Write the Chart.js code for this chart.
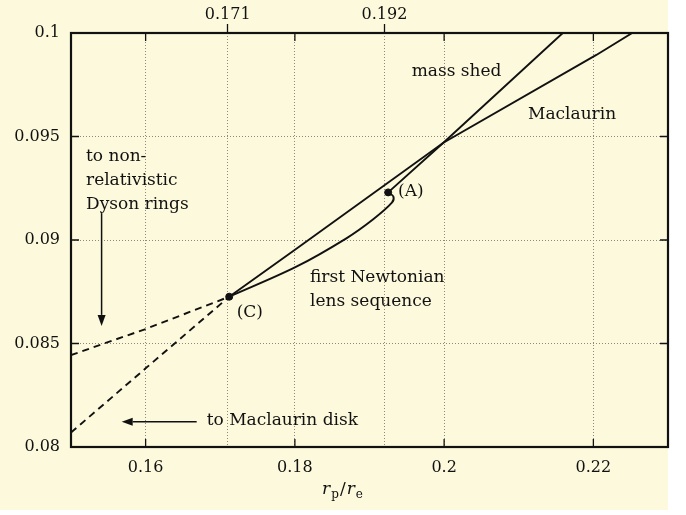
<!DOCTYPE html>
<html>
<head>
<meta charset="utf-8">
<script src="https://cdn.jsdelivr.net/npm/chart.js@4.4.1/dist/chart.umd.min.js"></script>
<style>
html, body { margin: 0; padding: 0; background: #ffffff; }
#wrap { position: relative; width: 686px; height: 515px; }
</style>
</head>
<body>
<div id="wrap"><canvas id="chart" width="686" height="515"></canvas></div>
<script>
// axis ticks
const xTicks = [0.16, 0.18, 0.2, 0.22];
const xTopTicks = [0.171, 0.192];
const yTicks = [0.08, 0.085, 0.09, 0.095, 0.1];

// Maclaurin sequence (solid part from C upward, dashed part towards the disk)
const maclaurinX = [0.1712, 0.1802, 0.1999, 0.2204, 0.2252];
const maclaurinY = [0.08726, 0.08958, 0.0947, 0.09894, 0.1];
const maclaurinDiskX = [0.15, 0.16, 0.1712];
const maclaurinDiskY = [0.0807, 0.0838, 0.08726];

// branch towards non-relativistic Dyson rings (dashed)
const dysonX = [0.15, 0.16, 0.1712];
const dysonY = [0.08444, 0.0857, 0.08726];

// mass-shed curve
const massShedX = [0.2159, 0.1999, 0.1925];
const massShedY = [0.1, 0.0947, 0.0923];

// first Newtonian lens sequence, from C to A
const lensX = [0.1712, 0.1802, 0.1869, 0.1905, 0.1930, 0.1932, 0.1925];
const lensY = [0.08726, 0.08871, 0.09008, 0.0910, 0.0918, 0.0921, 0.0923];

// marked points A and C
const markX = [0.1925, 0.1712];
const markY = [0.0923, 0.08726];

const INK = "#111111";
const SERIF = "'DejaVu Serif', serif";

function toPoints(xs, ys) {
    return xs.map((x, i) => ({ x: x, y: ys[i] }));
}

function lineSet(xs, ys, dashed, tension) {
    return {
        data: toPoints(xs, ys),
        showLine: true,
        borderColor: INK,
        borderWidth: 1.9,
        borderDash: dashed ? [7, 5] : [],
        pointRadius: 0,
        tension: tension || 0,
        fill: false
    };
}

const bgPlugin = {
    id: "paper",
    beforeDraw(chart) {
        const c = chart.ctx;
        c.save();
        c.fillStyle = "#fdf9dc";
        c.fillRect(0, 0, 668, 510);
        c.restore();
    }
};

const framePlugin = {
    id: "frame",
    afterDatasetsDraw(chart) {
        const c = chart.ctx;
        const a = chart.chartArea;
        const sx = chart.scales.x, sy = chart.scales.y;
        c.save();
        c.strokeStyle = INK;
        c.lineWidth = 1.3;
        c.beginPath();
        xTicks.forEach(v => {
            const px = sx.getPixelForValue(v);
            c.moveTo(px, a.bottom); c.lineTo(px, a.bottom - 8);
            c.moveTo(px, a.top); c.lineTo(px, a.top + 8);
        });
        yTicks.slice(1, -1).forEach(v => {
            const py = sy.getPixelForValue(v);
            c.moveTo(a.left, py); c.lineTo(a.left + 8, py);
            c.moveTo(a.right, py); c.lineTo(a.right - 8, py);
        });
        c.stroke();
        c.lineWidth = 2.2;
        c.strokeRect(a.left, a.top, a.right - a.left, a.bottom - a.top);
        c.restore();
    }
};

function arrow(c, x1, y1, x2, y2) {
    const ang = Math.atan2(y2 - y1, x2 - x1);
    const len = 11, half = 4;
    c.beginPath();
    c.moveTo(x1, y1);
    c.lineTo(x2 - len * Math.cos(ang), y2 - len * Math.sin(ang));
    c.stroke();
    c.beginPath();
    c.moveTo(x2, y2);
    c.lineTo(x2 - len * Math.cos(ang) - half * Math.sin(ang), y2 - len * Math.sin(ang) + half * Math.cos(ang));
    c.lineTo(x2 - len * Math.cos(ang) + half * Math.sin(ang), y2 - len * Math.sin(ang) - half * Math.cos(ang));
    c.closePath();
    c.fill();
}

const labelPlugin = {
    id: "labels",
    afterDraw(chart) {
        const c = chart.ctx;
        const sx = chart.scales.x, sy = chart.scales.y;
        const X = v => sx.getPixelForValue(v);
        const Y = v => sy.getPixelForValue(v);
        c.save();
        c.fillStyle = INK;
        c.strokeStyle = INK;
        c.font = "17px " + SERIF;
        c.textAlign = "left";
        c.textBaseline = "middle";

        c.fillText("mass shed", X(0.19565), Y(0.09813));
        c.fillText("Maclaurin", X(0.21124), Y(0.09604));
        c.fillText("(A)", X(0.19382), Y(0.09232));
        c.fillText("(C)", X(0.1722), Y(0.08647));
        c.fillText("first Newtonian", X(0.18203), Y(0.08818));
        c.fillText("lens sequence", X(0.18203), Y(0.08702));
        c.fillText("to non-", X(0.15201), Y(0.09402));
        c.fillText("relativistic", X(0.15201), Y(0.09286));
        c.fillText("Dyson rings", X(0.15201), Y(0.09169));
        c.fillText("to Maclaurin disk", X(0.16818), Y(0.08126));

        c.lineWidth = 1.5;
        arrow(c, X(0.1541), Y(0.0913), X(0.1541), Y(0.08585));
        arrow(c, X(0.16684), Y(0.08122), X(0.15679), Y(0.08122));

        // axis title r_p / r_e
        const big = "17px " + SERIF, ital = "italic 17px " + SERIF, small = "12px " + SERIF;
        const parts = [
            { t: "r", f: ital, dy: 0 },
            { t: "p", f: small, dy: 4 },
            { t: "/", f: big, dy: 0 },
            { t: "r", f: ital, dy: 0 },
            { t: "e", f: small, dy: 4 }
        ];
        let total = 0;
        parts.forEach(p => { c.font = p.f; p.w = c.measureText(p.t).width; total += p.w + 1; });
        let px = chart.width / 2 - total / 2;
        const base = 494;
        c.textBaseline = "alphabetic";
        parts.forEach(p => { c.font = p.f; c.fillText(p.t, px, base + p.dy); px += p.w + 1; });
        c.restore();
    }
};

const gridColor = "#8d8a7c";
const tickFont = { family: SERIF, size: 16 };

new Chart(document.getElementById("chart"), {
    type: "scatter",
    data: {
        datasets: [
            lineSet(maclaurinX, maclaurinY, false, 0),
            lineSet(maclaurinDiskX, maclaurinDiskY, true, 0),
            lineSet(dysonX, dysonY, true, 0),
            lineSet(massShedX, massShedY, false, 0),
            lineSet(lensX, lensY, false, 0.35),
            {
                data: toPoints(markX, markY),
                pointRadius: 3.5,
                pointBackgroundColor: INK,
                pointBorderColor: INK,
                showLine: false
            }
        ]
    },
    options: {
        responsive: false,
        animation: false,
        layout: { padding: { right: 18, left: 0, top: 0, bottom: 0 } },
        plugins: {
            legend: { display: false },
            tooltip: { enabled: false }
        },
        scales: {
            x: {
                type: "linear",
                position: "bottom",
                min: 0.15,
                max: 0.23,
                afterBuildTicks: s => { s.ticks = xTicks.map(v => ({ value: v })); },
                afterFit: s => { s.height = 68; },
                grid: { color: gridColor, lineWidth: 1, drawTicks: false },
                border: { display: false, dash: [1, 2] },
                ticks: { color: INK, font: tickFont, padding: 11, maxRotation: 0, callback: v => String(v) }
            },
            x2: {
                type: "linear",
                position: "top",
                min: 0.15,
                max: 0.23,
                afterBuildTicks: s => { s.ticks = xTopTicks.map(v => ({ value: v })); },
                afterFit: s => { s.height = 33; },
                grid: { color: gridColor, lineWidth: 1, drawTicks: true, tickLength: 9, tickColor: INK, tickWidth: 1.3, tickBorderDash: [] },
                border: { display: false, dash: [1, 2] },
                ticks: { color: INK, font: tickFont, padding: 0, maxRotation: 0, callback: v => String(v) }
            },
            y: {
                type: "linear",
                min: 0.08,
                max: 0.1,
                afterBuildTicks: s => { s.ticks = yTicks.map(v => ({ value: v })); },
                afterFit: s => { s.width = 71; },
                grid: { color: gridColor, lineWidth: 1, drawTicks: false },
                border: { display: false, dash: [1, 2] },
                ticks: { color: INK, font: tickFont, padding: 11, callback: v => String(v) }
            }
        }
    },
    plugins: [bgPlugin, framePlugin, labelPlugin]
});
</script>
</body>
</html>
